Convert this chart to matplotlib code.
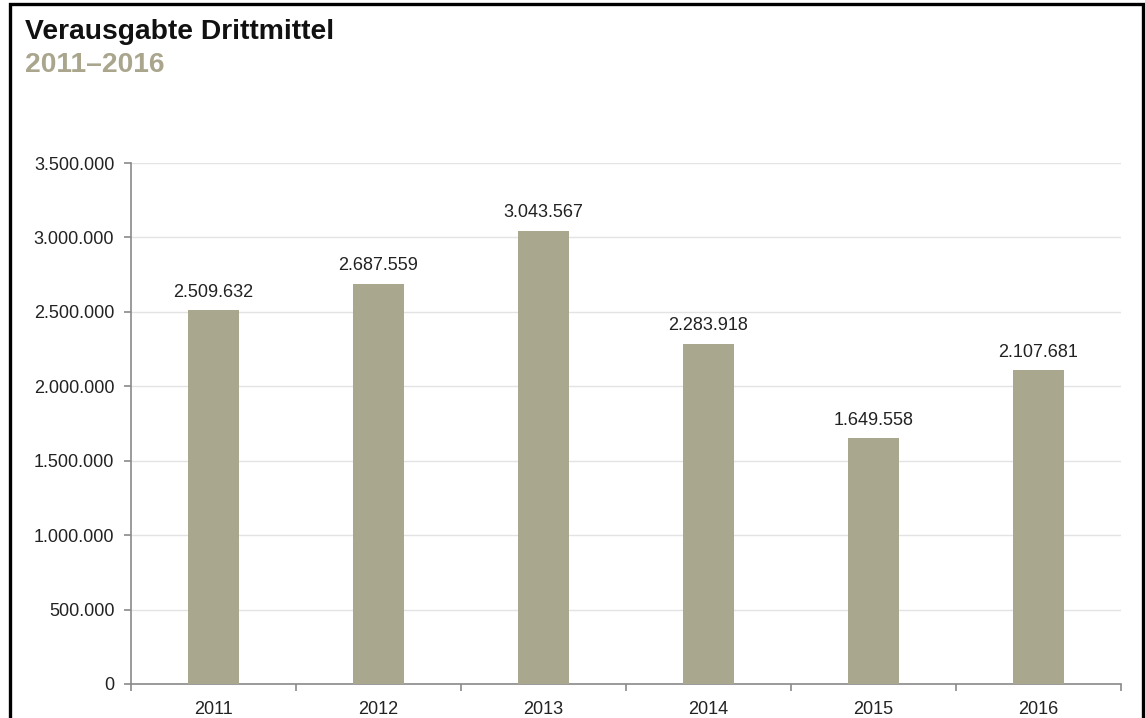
import matplotlib
matplotlib.use("Agg")
import matplotlib.pyplot as plt
import numpy as np
from matplotlib.patches import Rectangle
from matplotlib.ticker import FuncFormatter, FixedLocator

plt.rcParams["font.family"] = ["Liberation Sans", "DejaVu Sans"]

years = ["2011", "2012", "2013", "2014", "2015", "2016"]
values = [2509632, 2687559, 3043567, 2283918, 1649558, 2107681]
yticks = [0, 500000, 1000000, 1500000, 2000000, 2500000, 3000000, 3500000]

BAR = "#A9A88F"
SUB = "#A9A68D"
AXC = "#8A8A8A"
GRID = "#E3E3E3"
INK = "#222222"

def de(v, _=None):
    return f"{int(v):,}".replace(",", ".")

fig = plt.figure(figsize=(11.45, 7.18), dpi=100)
W, H = 1145, 718
ax = fig.add_axes([131 / W, 1 - 684 / H, (1121 - 131) / W, (684 - 163) / H])

x = np.arange(len(years))
ax.bar(x, values, 0.315, color=BAR, zorder=3)
for xi, v in zip(x, values):
    ax.annotate(de(v), (xi, v), xytext=(0, 7), textcoords="offset points",
                ha="center", va="bottom", fontsize=13, color=INK)

ax.set_xlim(-0.5, len(years) - 0.5)
ax.set_ylim(0, 3500000)
ax.set_yticks(yticks)
ax.yaxis.set_major_formatter(FuncFormatter(de))
ax.set_xticks(x)
ax.set_xticklabels(years)
ax.xaxis.set_minor_locator(FixedLocator(np.arange(-0.5, len(years), 1.0)))
ax.tick_params(axis="x", which="major", length=0, pad=12, labelsize=13, labelcolor=INK)
ax.tick_params(axis="x", which="minor", length=5, color=AXC, width=1.2)
ax.tick_params(axis="y", length=5, color=AXC, width=1.2, labelsize=13, labelcolor=INK, pad=7)

ax.grid(axis="y", color=GRID, lw=1, zorder=0)
ax.set_axisbelow(True)
for sp in ("top", "right"):
    ax.spines[sp].set_visible(False)
for sp in ("left", "bottom"):
    ax.spines[sp].set_color(AXC)
    ax.spines[sp].set_linewidth(1.2)

fig.text(25 / W, 1 - 39 / H, "Verausgabte Drittmittel", fontsize=20.3, fontweight="bold",
         color="#111111", ha="left", va="baseline")
fig.text(25 / W, 1 - 72 / H, "2011\u20132016", fontsize=20.3, fontweight="bold",
         color=SUB, ha="left", va="baseline")

fig.add_artist(Rectangle((9.5 / W, -0.05), (1143 - 9.5) / W, 1.05 - 4 / H,
                         transform=fig.transFigure, fill=False, ec="black", lw=2.4))

fig.savefig("out.png", dpi=100, facecolor="white")
